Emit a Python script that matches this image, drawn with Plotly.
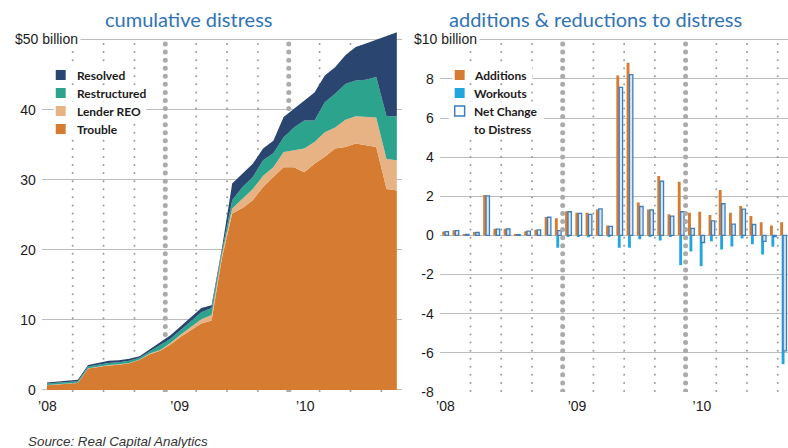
import numpy as np
import pandas as pd
import plotly.graph_objects as go

# ---------------------------------------------------------------- data
# Cumulative distress by status, $ billion, monthly Jan-2008 .. Nov-2010
months = pd.period_range("2008-01", "2010-11", freq="M").strftime("%Y-%m").tolist()

trouble = [0.65, 0.75, 0.85, 0.97, 3.05, 3.3, 3.5, 3.6, 3.8, 4.3, 5.1, 5.6,
           6.5, 7.6, 8.5, 9.5, 9.9, 18.8, 25.2, 26.0, 27.1, 29.0, 30.4, 31.8,
           31.8, 31.1, 32.3, 33.3, 34.5, 34.7, 35.2, 35.0, 34.7, 28.7, 28.5]
lender_reo = [0.05, 0.05, 0.05, 0.05, 0.05, 0.05, 0.05, 0.05, 0.05, 0.05, 0.1, 0.1,
              0.2, 0.3, 0.5, 0.6, 0.8, 0.5, 0.7, 1.3, 1.6, 1.6, 1.4, 2.2,
              2.4, 3.4, 3.1, 3.5, 3.0, 3.9, 3.9, 4.0, 4.2, 4.3, 4.3]
restructured = [0.2, 0.2, 0.2, 0.23, 0.25, 0.25, 0.3, 0.3, 0.3, 0.25, 0.35, 0.7,
                0.6, 0.7, 0.9, 1.0, 1.0, 0.5, 1.2, 1.7, 1.7, 2.2, 2.0, 2.1,
                3.3, 4.0, 3.1, 4.3, 4.8, 5.1, 5.1, 5.3, 5.8, 6.1, 6.3]
resolved = [0.15, 0.2, 0.2, 0.2, 0.2, 0.25, 0.3, 0.3, 0.3, 0.2, 0.25, 0.3,
            0.5, 0.5, 0.5, 0.6, 0.4, 0.4, 2.4, 1.9, 1.9, 1.7, 1.8, 2.9,
            2.7, 2.9, 4.0, 3.8, 3.8, 4.1, 4.8, 5.2, 5.3, 11.5, 12.0]

# Monthly flows, $ billion, Jan-2008 .. Oct-2010
flow_months = months[:34]
additions = [0.2, 0.26, 0.05, 0.17, 2.07, 0.34, 0.34, 0.05, 0.22, 0.29, 0.94, 0.88,
             1.23, 1.16, 1.16, 1.33, 0.51, 8.17, 8.82, 1.68, 1.33, 3.04, 1.08, 2.74,
             1.16, 1.21, 1.04, 2.32, 1.16, 1.5, 0.99, 0.68, 0.51, 0.68]
workouts = [0, 0, 0, 0, 0, 0, 0, 0, 0, 0, 0, -0.63,
            -0.03, -0.03, -0.09, 0, -0.05, -0.63, -0.63, -0.2, -0.05, -0.26, -0.08, -1.52,
            -0.82, -1.57, -0.30, -0.72, -0.57, -0.16, -0.45, -0.98, -0.58, -6.58]
net_change = [0.19, 0.25, 0.05, 0.15, 2.02, 0.32, 0.33, 0.04, 0.22, 0.28, 0.93, 0.25,
              1.21, 1.13, 1.08, 1.36, 0.46, 7.57, 8.22, 1.48, 1.3, 2.77, 0.99, 1.21,
              0.36, -0.36, 0.74, 1.62, 0.58, 1.34, 0.56, -0.3, -0.06, -5.9]

year_labels = ["\u201908", "\u201909", "\u201910"]

# ---------------------------------------------------------------- styling
W, H = 788, 448
M_T, M_B = 26, 56
PLOT_H = H - M_T - M_B

C_TROUBLE = "#d67b32"
C_REO = "#e8b384"
C_RESTR = "#2ba38d"
C_RESOLVED = "#2a4570"
C_WORKOUT = "#22a6e0"
C_NET = "#3a7fc1"
C_TITLE = "#2f73b7"
C_TEXT = "#1c1a1b"
C_GRID = "#bdbdbd"

NARROW = "Liberation Sans Narrow, Liberation Sans, sans-serif"
TICK_FONT = dict(family="Liberation Sans, Arial, sans-serif", size=14, color=C_TEXT)
LEG_FONT = dict(family="Lato, sans-serif", size=12, color=C_TEXT)


def px_x(p):
    return p / W


def px_y(p):
    return (H - M_B - p) / PLOT_H


x_cum = np.arange(len(months)) + 0.5
x_flow = np.arange(len(flow_months)) + 0.5

# plot area runs a little above the top gridline so the cumulative total can overshoot it
L_YRANGE = [-0.3, -0.3 + PLOT_H / 7.0]
R_YRANGE = [-8.0, -8.0 + PLOT_H / 19.57]

fig = go.Figure()


# ---------------------------------------------------------------- dotted quarter / year guides
def guide_dots(xaxis, yaxis, yrange):
    rows_px = 391 - 8.07 * np.arange(44)
    span = yrange[1] - yrange[0]
    rows = yrange[0] + (H - M_B - rows_px) * span / PLOT_H
    for q in range(3, 34, 3):
        big = q % 12 == 0
        fig.add_trace(go.Scatter(
            x=[q] * len(rows), y=rows, mode="markers", xaxis=xaxis, yaxis=yaxis,
            marker=dict(size=5 if big else 2.0, color="#ababab" if big else "#9a9a9a",
                        line=dict(width=0)),
            hoverinfo="skip", showlegend=False))


guide_dots("x", "y", L_YRANGE)
guide_dots("x2", "y2", R_YRANGE)

# ---------------------------------------------------------------- cumulative stacked areas
for name, vals, col in [("Trouble", trouble, C_TROUBLE),
                        ("Lender REO", lender_reo, C_REO),
                        ("Restructured", restructured, C_RESTR),
                        ("Resolved", resolved, C_RESOLVED)]:
    fig.add_trace(go.Scatter(
        x=x_cum, y=vals, name=name, stackgroup="cum", mode="lines",
        line=dict(width=0, color=col), fillcolor=col,
        xaxis="x", yaxis="y", hoverinfo="skip", showlegend=False))

# ---------------------------------------------------------------- monthly flow bars
fig.add_trace(go.Bar(x=x_flow, y=workouts, name="Workouts", offset=-0.12, width=0.28,
                     marker=dict(color=C_WORKOUT, line=dict(width=0)),
                     xaxis="x2", yaxis="y2", hoverinfo="skip", showlegend=False))
fig.add_trace(go.Bar(x=x_flow, y=additions, name="Additions", offset=-0.26, width=0.28,
                     marker=dict(color=C_TROUBLE, line=dict(width=0)),
                     xaxis="x2", yaxis="y2", hoverinfo="skip", showlegend=False))
fig.add_trace(go.Bar(x=x_flow, y=net_change, name="Net Change to Distress", offset=0.02, width=0.33,
                     marker=dict(color="rgba(214,228,242,0.85)", line=dict(width=1.3, color=C_NET)),
                     xaxis="x2", yaxis="y2", hoverinfo="skip", showlegend=False))

# ---------------------------------------------------------------- axes
axis_common = dict(showline=False, zeroline=False, ticks="", tickfont=TICK_FONT)
fig.update_layout(
    width=W, height=H, margin=dict(l=0, r=0, t=M_T, b=M_B),
    paper_bgcolor="white", plot_bgcolor="white", barmode="overlay",
    xaxis=dict(domain=[px_x(38), px_x(400)], range=[0, 35], showgrid=False,
               tickvals=[0.55, 13.4, 25.6], ticktext=year_labels, ticklabelstandoff=4,
               **axis_common),
    yaxis=dict(domain=[0, 1], range=L_YRANGE, showgrid=True, gridcolor=C_GRID, gridwidth=1,
               tickvals=[0, 10, 20, 30, 40, 50], ticktext=["0", "10", "20", "30", "40", ""],
               ticklabelstandoff=5, anchor="x", **axis_common),
    xaxis2=dict(domain=[px_x(438), 1], range=[0, 34], showgrid=False, anchor="y2",
                tickvals=[0.55, 13.4, 25.6], ticktext=year_labels, ticklabelstandoff=4,
                **axis_common),
    yaxis2=dict(domain=[0, 1], range=R_YRANGE, showgrid=True, gridcolor=C_GRID, gridwidth=1,
                tickvals=list(range(-8, 11, 2)),
                ticktext=["-8", "-6", "-4", "-2", "0", "2", "4", "6", "8", ""],
                ticklabelstandoff=5, anchor="x2", **axis_common),
    showlegend=False,
)

annotations = []
shapes = []

# titles
for txt, cx in [("cumulative distress", 185), ("additions &amp; reductions to distress", 595)]:
    annotations.append(dict(text=txt, x=px_x(cx), y=px_y(19), xref="paper", yref="paper",
                            xanchor="center", yanchor="middle", showarrow=False,
                            font=dict(family="Lato, sans-serif", size=20, color=C_TITLE)))

# top axis labels with units
for txt, rx in [("$50 billion", 77), ("$10 billion", 478)]:
    annotations.append(dict(text=txt, x=px_x(rx), y=px_y(39.5), xref="paper", yref="paper",
                            xanchor="right", yanchor="middle", showarrow=False,
                            bgcolor="white", borderpad=2, font=TICK_FONT))

# source line
annotations.append(dict(text="<i>Source: Real Capital Analytics</i>", x=px_x(22), y=px_y(441),
                        xref="paper", yref="paper", xanchor="left", yanchor="middle",
                        showarrow=False,
                        font=dict(family=NARROW, size=13.4, color="#333333")))


# hand-placed legends
def legend_row(sq_x, text_x, row_y, label, text_w, fill, outline=None):
    shapes.append(dict(type="rect", xref="paper", yref="paper", layer="above",
                       x0=px_x(sq_x - 2), x1=px_x(text_x + text_w + 3),
                       y0=px_y(row_y + 8), y1=px_y(row_y - 8),
                       fillcolor="white", line=dict(width=0)))
    if fill is not None:
        shapes.append(dict(type="rect", xref="paper", yref="paper", layer="above",
                           x0=px_x(sq_x), x1=px_x(sq_x + 10),
                           y0=px_y(row_y + 5), y1=px_y(row_y - 5),
                           fillcolor=fill,
                           line=dict(width=1.5 if outline else 0, color=outline or fill)))
    annotations.append(dict(text=f"<b>{label}</b>", x=px_x(text_x), y=px_y(row_y),
                            xref="paper", yref="paper", xanchor="left", yanchor="middle",
                            showarrow=False, font=LEG_FONT))


legend_row(52, 71, 75, "Resolved", 53, C_RESOLVED)
legend_row(52, 71, 93, "Restructured", 76, C_RESTR)
legend_row(52, 71, 111, "Lender REO", 69, C_REO)
legend_row(52, 71, 129, "Trouble", 45, C_TROUBLE)

legend_row(453, 470, 75, "Additions", 58, C_TROUBLE)
legend_row(453, 470, 93, "Workouts", 57, C_WORKOUT)
shapes.append(dict(type="rect", xref="paper", yref="paper", layer="above",
                   x0=px_x(447), x1=px_x(543), y0=px_y(122), y1=px_y(112),
                   fillcolor="white", line=dict(width=0)))
legend_row(453, 470, 111, "Net Change", 70, "white", outline=C_NET)
legend_row(453, 470, 129, "to Distress", 63, None)

fig.update_layout(annotations=annotations, shapes=shapes)

fig.write_html("out.html", include_plotlyjs=True, config={"displayModeBar": False})
